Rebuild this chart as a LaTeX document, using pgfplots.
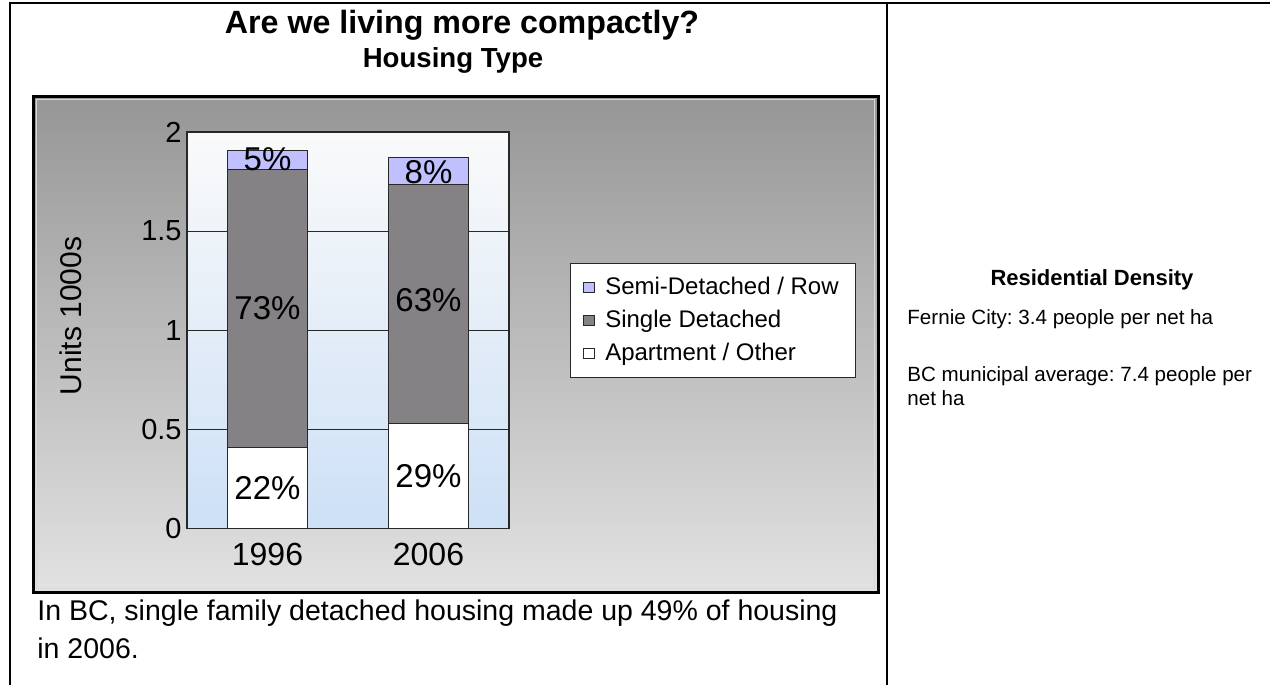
\documentclass[border=0pt]{standalone}
\usepackage{fontspec}
\setmainfont{Liberation Sans}
\usepackage{pgfplots}
\pgfplotsset{compat=1.18}
\frenchspacing
\definecolor{semi}{RGB}{192,192,255}
\definecolor{single}{RGB}{133,130,133}
\definecolor{plottop}{RGB}{250,250,250}
\definecolor{plotbot}{RGB}{205,224,246}
\definecolor{frametop}{RGB}{150,150,150}
\definecolor{framebot}{RGB}{226,226,226}
\definecolor{edge}{RGB}{40,40,40}
\tikzset{pct/.style={font=\fontsize{16.5}{19}\selectfont}}
\begin{document}
\begin{tikzpicture}
\begin{scope}[x=0.5pt,y=-0.5pt]
\useasboundingbox (0,0) rectangle (1270,685);
% page frame
\draw[line width=1.2pt] (10,685) -- (10,3) -- (1270,3);
\draw[line width=1pt] (887,3) -- (887,685);
% chart frame
\shade[top color=frametop,bottom color=framebot] (33,96) rectangle (878,592);
\draw[white!85!black, line width=0.6pt] (36.5,99.5) rectangle (874.5,588.5);
\draw[line width=1.5pt] (33,96) rectangle (878,592);
% titles
\node[anchor=base,font=\fontsize{16.1}{18}\selectfont\bfseries] at (462,33) {Are we living more compactly?};
\node[anchor=base,font=\fontsize{13.8}{16}\selectfont\bfseries] at (453,68) {Housing Type};
% bottom text
\node[anchor=base west,inner sep=0pt,font=\fontsize{14.25}{17}\selectfont] at (37,620) {In BC, single family detached housing made up 49\% of housing};
\node[anchor=base west,inner sep=0pt,font=\fontsize{14.25}{17}\selectfont] at (37,658) {in 2006.};
% right panel
\node[anchor=base,font=\fontsize{11}{13}\selectfont\bfseries] at (1092,285) {Residential Density};
\node[anchor=base west,inner sep=0pt,font=\fontsize{10.3}{12}\selectfont] at (907,324) {Fernie City: 3.4 people per net ha};
\node[anchor=base west,inner sep=0pt,font=\fontsize{10.3}{12}\selectfont] at (907,381) {BC municipal average: 7.4 people per};
\node[anchor=base west,inner sep=0pt,font=\fontsize{10.3}{12}\selectfont] at (907,405) {net ha};
\end{scope}
\begin{axis}[
  at={(93.5pt,-264.25pt)}, anchor=south west,
  scale only axis, width=161pt, height=198.25pt,
  xmin=-0.5, xmax=1.5, ymin=0, ymax=2,
  ybar stacked, bar width=0.5,
  xtick={0,1}, xticklabels={1996,2006},
  ytick={0,0.5,1,1.5,2},
  major tick length=0pt,
  ymajorgrids, grid style={edge, line width=0.5pt},
  axis line style={edge, line width=0.6pt},
  axis background/.style={top color=plottop, bottom color=plotbot},
  yticklabel style={font=\fontsize{14.5}{17}\selectfont, inner xsep=2.5pt},
  xticklabel style={font=\fontsize{16}{18}\selectfont, inner ysep=7pt},
  /pgf/number format/assume math mode=true,
  ylabel={Units 1000s},
  ylabel style={font=\fontsize{15}{18}\selectfont, at={(axis description cs:-0.36,0.536)}, anchor=center},
  reverse legend,
  legend style={at={(axis description cs:1.189,0.670)}, anchor=north west,
    draw=edge, line width=0.6pt, fill=white, inner xsep=6.5pt, inner ysep=5pt,
    row sep=2.3pt,
    font=\fontsize{12}{14}\selectfont},
  legend cell align=left,
  legend image code/.code={\draw[#1] (0pt,-2.6pt) rectangle (5.2pt,2.6pt); \path (8.4pt,0pt);},
]
\addplot[fill=white, draw=edge, line width=0.5pt] coordinates {(0,0.41) (1,0.53)};
\addplot[fill=single, draw=edge, line width=0.5pt] coordinates {(0,1.40) (1,1.205)};
\addplot[fill=semi, draw=edge, line width=0.5pt] coordinates {(0,0.097) (1,0.138)};
\legend{Apartment / Other, Single Detached, Semi-Detached / Row\hspace{7pt}}
\coordinate (a0) at (axis cs:0,0.205);
\coordinate (a1) at (axis cs:1,0.265);
\coordinate (s0) at (axis cs:0,1.11);
\coordinate (s1) at (axis cs:1,1.15);
\coordinate (r0) at (axis cs:0,1.865);
\coordinate (r1) at (axis cs:1,1.80);
\end{axis}
\node[pct] at (a0) {22\%};
\node[pct] at (a1) {29\%};
\node[pct] at (s0) {73\%};
\node[pct] at (s1) {63\%};
\node[pct] at (r0) {5\%};
\node[pct] at (r1) {8\%};
\end{tikzpicture}
\end{document}
